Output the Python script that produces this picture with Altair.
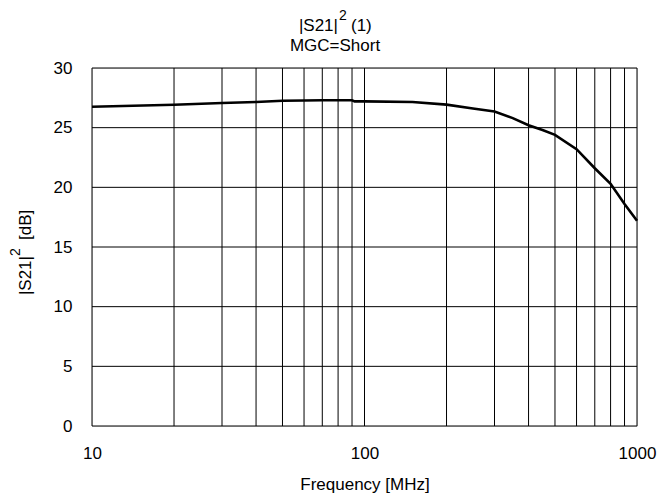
import altair as alt
import pandas as pd

freq = [10, 20, 30, 40, 50, 60, 70, 80, 90, 92, 100, 150, 200, 250, 300, 350, 400, 450, 500, 600, 700, 800, 900, 1000]
gain = [26.75, 26.92, 27.07, 27.15, 27.25, 27.28, 27.3, 27.3, 27.3, 27.2, 27.2, 27.15, 26.93, 26.6, 26.35, 25.8, 25.2, 24.8, 24.4, 23.2, 21.6, 20.3, 18.6, 17.2]

x_grid = [10, 20, 30, 40, 50, 60, 70, 80, 90, 100, 200, 300, 400, 500, 600, 700, 800, 900, 1000]
y_grid = [0, 5, 10, 15, 20, 25, 30]
x_labels = [10, 100, 1000]

FONT = "Liberation Sans"
FS = 17
W, H = 545, 358

df = pd.DataFrame({"f": freq, "g": gain})
xs = alt.Scale(type="log", domain=[10, 1000])
ys = alt.Scale(domain=[0, 30])

x_axis = alt.Axis(values=x_labels, format="d", grid=False, ticks=False, domain=False,
                  labelFlush=False,
                  labelFont=FONT, labelFontSize=FS, labelColor="#000000",
                  labelPadding=19, title="Frequency [MHz]", titleFont=FONT,
                  titleFontSize=17, titleFontWeight="normal", titleColor="#000000",
                  titlePadding=15)
y_axis = alt.Axis(values=y_grid, grid=False, ticks=False, domain=False,
                  labelFlush=False,
                  labelFont=FONT, labelFontSize=FS, labelColor="#000000",
                  labelPadding=20, title=None)

vgrid = alt.Chart(pd.DataFrame({"f": x_grid})).mark_rule(color="#000000", strokeWidth=1).encode(
    x=alt.X("f:Q", scale=xs, axis=x_axis))
hgrid = alt.Chart(pd.DataFrame({"g": y_grid})).mark_rule(color="#000000", strokeWidth=1).encode(
    y=alt.Y("g:Q", scale=ys, axis=y_axis))

line = alt.Chart(df).mark_line(color="#000000", strokeWidth=2.6).encode(
    x=alt.X("f:Q", scale=xs, axis=x_axis),
    y=alt.Y("g:Q", scale=ys, axis=y_axis),
)

def txt(s, x, y, size=FS, align="center", angle=0, baseline="middle"):
    return alt.Chart(pd.DataFrame({"t": [s]})).mark_text(
        font=FONT, fontSize=size, color="#000000", align=align, baseline=baseline,
        angle=angle).encode(x=alt.value(x), y=alt.value(y), text="t:N")

# title line 1: |S21|^2 (1)
t1 = txt("|S21|", 246, -42, align="right")
t1s = txt("2", 247, -52, size=14, align="left")
t1b = txt("(1)", 259, -42, align="left")
t2 = txt("MGC=Short", 243, -22)

# y title rotated
ya = txt("|S21|", -66, 188, align="right", angle=270)
ys2 = txt("2", -76, 188, size=14, align="left", angle=270)
yb = txt("[dB]", -66, 172, align="left", angle=270)

chart = alt.layer(vgrid, hgrid, line, t1, t1s, t1b, t2, ya, ys2, yb).properties(
    width=W, height=H,
    autosize=alt.AutoSizeParams(type="none"),
    padding={"left": 84, "top": 60, "right": 27, "bottom": 68},
).configure_view(stroke="#808080", strokeWidth=1.5).configure(background="white")

chart.save("out.html", embed_options={"renderer": "svg", "actions": False})
